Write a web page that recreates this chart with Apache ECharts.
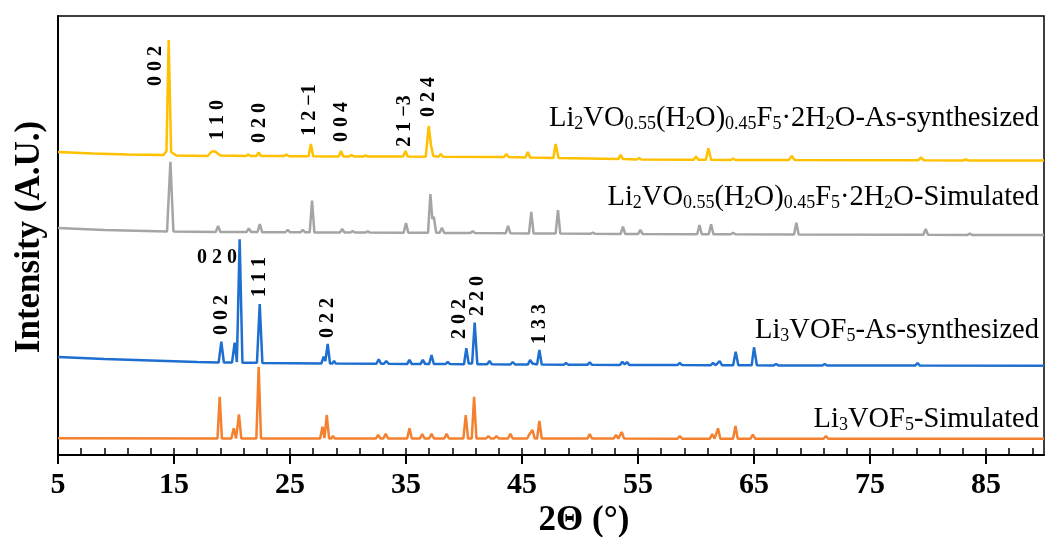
<!DOCTYPE html>
<html>
<head>
<meta charset="utf-8">
<script src="https://cdn.jsdelivr.net/npm/echarts@6/dist/echarts.min.js"></script>
<style>html,body{margin:0;padding:0;background:#fff}#c{width:1045px;height:537px}</style>
</head>
<body>
<div id="c"></div>
<script>
// X tick labels (2θ, degrees)
const xTickLabels = [5, 15, 25, 35, 45, 55, 65, 75, 85];
const xMinorTicks = [5,7,9,11,13,15,17,19,21,23,25,27,29,31,33,35,37,39,41,43,45,47,49,51,53,55,57,59,61,63,65,67,69,71,73,75,77,79,81,83,85,87,89];

// Series names
const seriesNames = ['Li2VO0.55(H2O)0.45F5·2H2O-As-synthesized','Li2VO0.55(H2O)0.45F5·2H2O-Simulated','Li3VOF5-As-synthesized','Li3VOF5-Simulated'];

// Patterns: [2θ, intensity incl. vertical stacking offset]
const yellowPattern = [[5,303],[8,301.5],[11,300.5],[14.1,300],[14.35,304],[14.54,415],[14.75,303],[15.2,299.5],[17.9,299],[18.25,303.5],[18.4,304.5],[18.55,303.5],[18.7,304.5],[19.0,299.5],[21.2,299],[21.4,300.5],[21.6,299],[22.1,299],[22.3,302.5],[22.5,299],[24.5,299],[24.7,300.5],[24.9,298.8],[26.6,298.8],[26.8,311],[27.0,298.8],[29.2,298.6],[29.4,304],[29.6,298.6],[30.1,298.6],[30.3,300],[30.5,298.6],[31.3,298.5],[31.5,299.5],[31.7,298.5],[34.75,298.4],[34.95,304],[35.15,298.4],[36.7,298.3],[36.96,329],[37.15,310],[37.35,299],[37.8,298.3],[38.0,301],[38.2,298.2],[43.45,298],[43.65,301],[43.85,298],[45.3,297.5],[45.5,303],[45.7,297.5],[47.7,297],[47.9,311],[48.15,297],[53.3,296],[53.5,300],[53.7,296],[54.9,295.5],[55.1,297],[55.3,295.5],[59.8,295.3],[60.0,298.5],[60.2,295.3],[60.85,295.3],[61.07,306.7],[61.3,295.3],[63.0,295],[63.2,296.5],[63.4,295],[68.0,295],[68.25,299],[68.5,295],[79.15,294.7],[79.4,297.7],[79.65,294.7],[83.0,294.5],[83.25,295.5],[83.5,294.5],[90,294.5]];

const grayPattern = [[5,227],[9,225],[14.4,223.5],[14.69,293.3],[14.95,223.5],[18.6,223],[18.8,229],[19.0,223],[21.25,223],[21.45,226.5],[21.65,223],[22.2,223],[22.4,231],[22.6,222.8],[24.6,222.8],[24.8,225],[25.0,222.8],[25.9,222.7],[26.1,225],[26.3,222.7],[26.7,222.7],[26.9,254.3],[27.1,222.6],[29.3,222.5],[29.5,226],[29.7,222.5],[30.2,222.5],[30.4,223.8],[30.6,222.5],[31.5,222.4],[31.7,223.8],[31.9,222.4],[34.8,222.3],[35.0,232],[35.2,222.3],[36.9,222.2],[37.1,261],[37.27,236],[37.4,238.3],[37.6,222.2],[37.9,222.2],[38.1,227.3],[38.3,222.1],[40.55,222],[40.75,223.8],[40.95,222],[43.6,221.8],[43.8,229],[44.0,221.8],[45.6,221.6],[45.8,243],[46.0,221.6],[47.9,221.5],[48.1,245],[48.3,221.4],[50.9,221.2],[51.1,222.5],[51.3,221.2],[53.5,221],[53.7,228.3],[53.9,221],[55.0,221],[55.2,225],[55.4,221],[60.1,220.8],[60.3,230],[60.5,220.8],[61.1,220.8],[61.3,230.7],[61.5,220.7],[63.0,220.7],[63.2,222.3],[63.4,220.7],[68.45,220.5],[68.65,232.3],[68.85,220.5],[79.6,220.2],[79.8,226],[80.0,220.2],[83.4,220.1],[83.6,221.3],[83.8,220.1],[90,220]];

const bluePattern = [[5,98],[9,96],[13,94.5],[17,93],[18.85,92.5],[19.08,113.3],[19.3,92.5],[20.0,92.4],[20.23,112.3],[20.42,93],[20.66,215.7],[20.9,92.3],[22.15,92.2],[22.39,151],[22.62,92.1],[27.7,91.5],[27.9,98.3],[28.05,94],[28.25,111],[28.45,91.5],[28.65,91.5],[28.8,94],[28.95,91.4],[32.45,91.2],[32.65,95.7],[32.85,91.2],[33.1,91.2],[33.3,94],[33.5,91.2],[35.1,91],[35.3,95],[35.5,91],[36.25,91],[36.45,95],[36.65,91],[37.0,91],[37.2,100],[37.4,91],[38.4,90.9],[38.6,93],[38.8,90.9],[40.0,90.8],[40.2,106.7],[40.4,91.5],[40.7,91.5],[40.92,132.3],[41.15,90.8],[42.0,90.7],[42.2,94],[42.4,90.7],[44.0,90.5],[44.2,93],[44.4,90.5],[45.5,90.4],[45.7,95],[45.9,91.5],[46.3,90.6],[46.5,105],[46.7,90.4],[48.6,90.3],[48.8,92],[49.0,90.3],[50.64,90.2],[50.84,92.7],[51.04,90.2],[53.45,90],[53.65,93.3],[53.85,90.5],[54.05,93],[54.25,90],[58.4,89.9],[58.6,92],[58.8,89.9],[61.27,89.8],[61.47,92],[61.7,89.8],[61.84,89.8],[62.04,94],[62.24,89.8],[63.2,89.8],[63.42,103.3],[63.65,89.7],[64.8,89.7],[65.0,107.7],[65.25,89.7],[66.7,89.6],[66.9,91],[67.1,89.6],[70.9,89.5],[71.1,91],[71.3,89.5],[78.9,89.4],[79.1,92],[79.3,89.4],[90,89.3]];

const orangePattern = [[5,16.8],[18.75,16.6],[18.94,58.3],[19.13,16.6],[19.95,16.6],[20.15,26.7],[20.35,16.6],[20.4,16.6],[20.6,40.7],[20.8,16.6],[22.1,16.6],[22.3,88.3],[22.5,16.6],[27.6,16.5],[27.8,28.3],[27.97,17],[28.17,40],[28.37,16.5],[28.55,16.5],[28.7,19],[28.85,16.5],[32.4,16.5],[32.6,20],[32.8,16.5],[33.05,16.5],[33.25,21.3],[33.45,16.5],[35.1,16.5],[35.3,26.7],[35.5,16.5],[36.2,16.5],[36.4,21],[36.6,16.5],[37.0,16.5],[37.2,21.3],[37.4,16.5],[38.3,16.5],[38.5,21.3],[38.7,16.5],[39.95,16.5],[40.15,40],[40.35,16.5],[40.67,16.5],[40.87,58.3],[41.07,16.5],[41.9,16.5],[42.1,19],[42.3,16.5],[42.6,16.5],[42.8,19],[43.0,16.5],[43.8,16.5],[44.0,21.3],[44.2,16.5],[45.45,16.5],[45.6,20],[45.75,18],[45.9,25],[46.1,16.5],[46.3,16.5],[46.5,34],[46.7,16.5],[47.55,16.5],[47.7,18],[47.85,16.5],[50.64,16.4],[50.84,21],[51.04,16.4],[52.9,16.4],[53.1,20],[53.3,16.4],[53.4,16.4],[53.6,23],[53.8,16.4],[58.4,16.3],[58.6,19],[58.8,16.3],[61.2,16.3],[61.4,21],[61.6,16.3],[61.7,16.3],[61.9,26.7],[62.1,16.3],[63.2,16.3],[63.4,29],[63.6,16.3],[64.7,16.3],[64.9,20.3],[65.1,16.3],[65.45,16.3],[65.6,18],[65.75,16.3],[66.75,16.3],[66.9,18],[67.05,16.3],[71.0,16.2],[71.2,19],[71.4,16.2],[73.95,16.2],[74.1,17.5],[74.25,16.2],[78.95,16.2],[79.1,17.5],[79.25,16.2],[81.15,16.2],[81.3,17.5],[81.45,16.2],[84.35,16.2],[84.5,17.5],[84.65,16.2],[90,16.2]];

// Miller index annotations
const yellowHkl = ['0 0 2','1 1 0','0 2 0','1 2 \u22121','0 0 4','2 1 \u22123','0 2 4'];
const blueHkl = ['0 2 0','1 1 1','0 0 2','0 2 2','2 0 2','2 2 0','1 3 3'];

const SERIF = "'Liberation Serif', 'Times New Roman', serif";
const chart = echarts.init(document.getElementById('c'), null, {renderer: 'canvas'});

// label layout (pixels)
const yHklPos = [[156,66],[218,120],[260,123],[310,110],[342,122],[405,121],[429,97]];
const bHklPos = [[217,258,0],[260,277,1],[222,315,1],[328,318,1],[460,319,1],[478,296,1],[540,324,1]];

const graphics = [];
yellowHkl.forEach((t, i) => {
  graphics.push({type:'text', x:yHklPos[i][0], y:yHklPos[i][1], rotation:Math.PI/2,
    style:{text:t, font:"bold 20px " + SERIF, fill:'#000', align:'center', verticalAlign:'middle'}});
});
blueHkl.forEach((t, i) => {
  const p = bHklPos[i];
  graphics.push({type:'text', x:p[0], y:p[1], rotation:p[2] ? Math.PI/2 : 0,
    style:{text:t, font:"bold 20px " + SERIF, fill:'#000', align:'center', verticalAlign:'middle'}});
});

const rich = {
  n: {fontSize:28.5, fontFamily:SERIF, fill:'#000', lineHeight:28, verticalAlign:'bottom'},
  s: {fontSize:18, fontFamily:SERIF, fill:'#000', lineHeight:18, verticalAlign:'bottom'}
};
const richLabels = [
  '{n|Li}{s|2}{n|VO}{s|0.55}{n|(H}{s|2}{n|O)}{s|0.45}{n|F}{s|5}{n|\u00b72H}{s|2}{n|O-As-synthesized}',
  '{n|Li}{s|2}{n|VO}{s|0.55}{n|(H}{s|2}{n|O)}{s|0.45}{n|F}{s|5}{n|\u00b72H}{s|2}{n|O-Simulated}',
  '{n|Li}{s|3}{n|VOF}{s|5}{n|-As-synthesized}',
  '{n|Li}{s|3}{n|VOF}{s|5}{n|-Simulated}'
];
const labelY = [133, 212, 345, 434];
richLabels.forEach((t, i) => {
  graphics.push({type:'text', x:1039, y:labelY[i],
    style:{text:t, rich:rich, align:'right', verticalAlign:'bottom', fill:'#000', font:"28px " + SERIF}});
});
graphics.push({type:'text', x:30, y:237, rotation:Math.PI/2,
  style:{text:'Intensity (A.U.)', font:"bold 35px " + SERIF, fill:'#000', align:'center', verticalAlign:'middle'}});
graphics.push({type:'text', x:584, y:521,
  style:{text:'2\u0398 (\u00b0)', font:"bold 35px " + SERIF, fill:'#000', align:'center', verticalAlign:'middle'}});

const colors = ['#FFC000', '#A5A5A5', '#1F6FD1', '#F4812F'];
const patterns = [yellowPattern, grayPattern, bluePattern, orangePattern];

chart.setOption({
  animation: false,
  backgroundColor: '#fff',
  grid: {left:58, right:1, top:16, bottom:82, show:true, borderColor:'#000', borderWidth:1.5, backgroundColor:'transparent'},
  xAxis: [
    {type:'value', min:5, max:90, position:'bottom',
      axisLine:{show:true, lineStyle:{color:'#000', width:2}},
      axisTick:{show:true, inside:false, length:9, customValues:xTickLabels, lineStyle:{color:'#000', width:2}},
      axisLabel:{show:true, customValues:xTickLabels, color:'#000', fontSize:30, fontWeight:'bold', fontFamily:SERIF, margin:15},
      splitLine:{show:false}},
    {type:'value', min:5, max:90, position:'bottom', offset:0,
      axisLine:{show:false},
      axisTick:{show:true, inside:true, length:7, customValues:xMinorTicks, lineStyle:{color:'#000', width:1.5}},
      axisLabel:{show:false},
      splitLine:{show:false}}
  ],
  yAxis: {type:'value', min:0, max:439,
    axisLine:{show:true, lineStyle:{color:'#000', width:2}},
    axisTick:{show:false}, axisLabel:{show:false}, splitLine:{show:false}},
  series: patterns.map((p, i) => ({
    name: seriesNames[i], type:'line', data:p, showSymbol:false, symbol:'none',
    lineStyle:{color:colors[i], width:2.5}, itemStyle:{color:colors[i]}, z: 3 + i
  })),
  graphic: graphics
});
</script>
</body>
</html>
